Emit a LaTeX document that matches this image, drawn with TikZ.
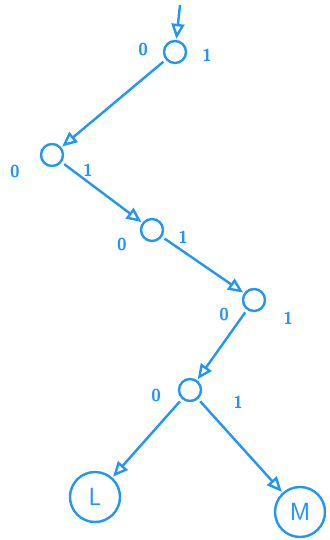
\documentclass[tikz,border=0pt]{standalone}
\usetikzlibrary{arrows.meta}
\definecolor{pen}{RGB}{33,150,243}
\begin{document}
\begin{tikzpicture}[x=1pt,y=-1pt,
  knot/.style={draw=pen,circle,line width=2.4pt,minimum size=22pt,inner sep=0pt},
  leaf/.style={draw=pen,circle,line width=2.4pt,minimum size=50pt,inner sep=0pt,text=pen,font=\Huge\sffamily},
  bit/.style={text=pen,font=\LARGE\sffamily\bfseries},
  edge/.style={draw=pen,line width=2.4pt,shorten <=3pt,shorten >=1pt,-{Triangle[open,length=15pt,width=13pt]}}]
\useasboundingbox (0,0) rectangle (329,540);
\node[knot] (a) at (175,52) {};
\node[knot] (b) at (52,155) {};
\node[knot] (c) at (152,230) {};
\node[knot] (d) at (254,300) {};
\node[knot] (e) at (190,390) {};
\node[leaf] (l) at (95,497) {L};
\node[leaf] (m) at (300,512) {M};
\coordinate (in) at (180,5);
\node[bit] (a0) at (143,50) {0};
\node[bit] (a1) at (207,55) {1};
\node[bit] (b0) at (15,172) {0};
\node[bit] (b1) at (88,170) {1};
\node[bit] (c0) at (122,245) {0};
\node[bit] (c1) at (183,237) {1};
\node[bit] (d0) at (224,315) {0};
\node[bit] (d1) at (288,318) {1};
\node[bit] (e0) at (156,395) {0};
\node[bit] (e1) at (238,402) {1};
\draw[edge,shorten <=0pt] (in) -- (a);
\draw[edge] (a) -- (b);
\draw[edge] (b) -- (c);
\draw[edge] (c) -- (d);
\draw[edge] (d) -- (e);
\draw[edge] (e) -- (l);
\draw[edge] (e) -- (m);
\end{tikzpicture}
\end{document}
